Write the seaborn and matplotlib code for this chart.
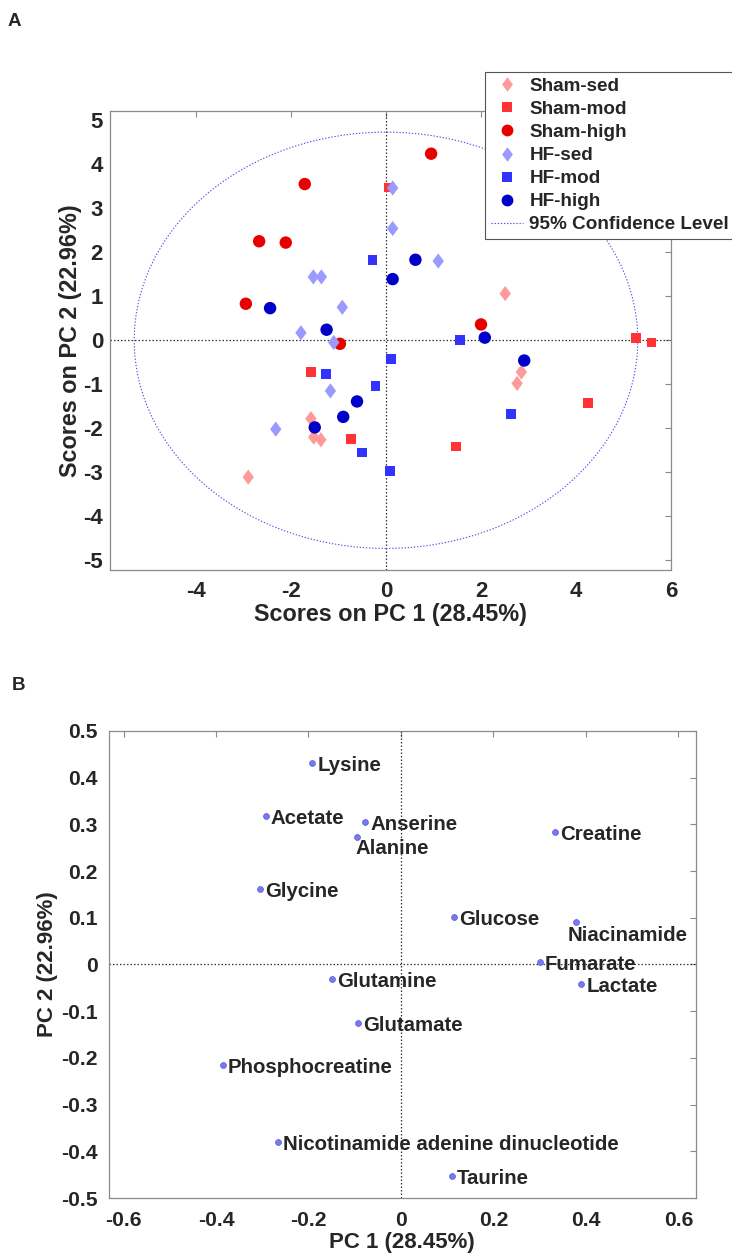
import matplotlib
matplotlib.use("Agg")
import matplotlib.pyplot as plt
import seaborn as sns
import pandas as pd
from matplotlib.patches import Ellipse
from matplotlib.lines import Line2D

# ---------------- data: panel A (scores) ----------------
groups = ["Sham-sed", "Sham-mod", "Sham-high", "HF-sed", "HF-mod", "HF-high"]

sham_sed_pc1 = [2.51, -1.58, -1.52, -1.37, -2.90, 2.85, 2.76]
sham_sed_pc2 = [1.06, -1.78, -2.20, -2.26, -3.11, -0.72, -0.98]

sham_mod_pc1 = [0.05, -1.58, -0.73, 5.26, 5.59, 4.25, 1.47]
sham_mod_pc2 = [3.47, -0.72, -2.24, 0.05, -0.05, -1.42, -2.41]

sham_high_pc1 = [-1.71, -2.67, -2.11, -2.95, 0.95, -0.97, 2.00]
sham_high_pc2 = [3.55, 2.25, 2.22, 0.83, 4.24, -0.08, 0.36]

hf_sed_pc1 = [0.14, 0.14, -1.53, -1.36, -0.92, -1.79, 1.10, -1.10, -1.17, -2.32]
hf_sed_pc2 = [3.46, 2.54, 1.44, 1.44, 0.75, 0.17, 1.80, -0.05, -1.15, -2.02]

hf_mod_pc1 = [-0.28, 0.10, -1.26, -0.22, -0.50, 0.09, 1.56, 2.63]
hf_mod_pc2 = [1.83, -0.43, -0.77, -1.04, -2.55, -2.97, 0.00, -1.67]

hf_high_pc1 = [0.62, 0.14, -2.44, -1.25, -0.61, -0.90, -1.50, 2.08, 2.91]
hf_high_pc2 = [1.83, 1.39, 0.73, 0.24, -1.39, -1.74, -1.98, 0.06, -0.46]

ellipse_semi_pc1 = 5.30
ellipse_semi_pc2 = 4.73

# ---------------- data: panel B (loadings) ----------------
metabolites = ["Lysine", "Acetate", "Anserine", "Alanine", "Creatine", "Glycine",
               "Glucose", "Niacinamide", "Fumarate", "Glutamine", "Lactate",
               "Glutamate", "Phosphocreatine", "Nicotinamide adenine dinucleotide",
               "Taurine"]
load_pc1 = [-0.192, -0.292, -0.077, -0.096, 0.333, -0.304, 0.114, 0.379, 0.300,
            -0.149, 0.390, -0.092, -0.385, -0.265, 0.110]
load_pc2 = [0.432, 0.319, 0.305, 0.272, 0.283, 0.162, 0.101, 0.090, 0.006,
            -0.031, -0.042, -0.126, -0.216, -0.381, -0.453]

# ---------------- styling ----------------
sns.set_style("white")
FONT = ["Liberation Sans", "DejaVu Sans"]
plt.rcParams["font.family"] = FONT
plt.rcParams["font.weight"] = "bold"
plt.rcParams["axes.labelweight"] = "bold"

palette = {"Sham-sed": "#FF9A9A", "Sham-mod": "#FF3333", "Sham-high": "#E60000",
           "HF-sed": "#9A9AFF", "HF-mod": "#3333FF", "HF-high": "#0000C8"}
diamond = [(0, 1), (0.75, 0), (0, -1), (-0.75, 0), (0, 1)]
markers = {"Sham-sed": diamond, "Sham-mod": "s", "Sham-high": "o",
           "HF-sed": diamond, "HF-mod": "s", "HF-high": "o"}
sizes = {"Sham-sed": 120, "Sham-mod": 48, "Sham-high": 80,
         "HF-sed": 120, "HF-mod": 48, "HF-high": 80}

pc1_lists = [sham_sed_pc1, sham_mod_pc1, sham_high_pc1, hf_sed_pc1, hf_mod_pc1, hf_high_pc1]
pc2_lists = [sham_sed_pc2, sham_mod_pc2, sham_high_pc2, hf_sed_pc2, hf_mod_pc2, hf_high_pc2]
rows = []
for g, xs, ys in zip(groups, pc1_lists, pc2_lists):
    for x, y in zip(xs, ys):
        rows.append({"PC1": x, "PC2": y, "group": g})
scores = pd.DataFrame(rows)

fig = plt.figure(figsize=(7.32, 12.6), dpi=100)
W, H = 732, 1260

def px_axes(l, t, r, b):
    return fig.add_axes([l / W, 1 - b / H, (r - l) / W, (b - t) / H])

spine_col = "#8a8a8a"

def style_axes(ax, fs, xpad, ypad):
    for s in ax.spines.values():
        s.set_color(spine_col)
        s.set_linewidth(0.9)
        s.set_visible(True)
    ax.tick_params(direction="in", top=True, right=True, length=4.5, width=0.8,
                   color=spine_col, labelsize=fs)
    ax.tick_params(axis="x", pad=xpad)
    ax.tick_params(axis="y", pad=ypad)
    for lab in ax.get_xticklabels() + ax.get_yticklabels():
        lab.set_fontweight("bold")

# ---------------- Panel A ----------------
axA = px_axes(110, 111, 671, 570)
axA.axhline(0, color="#333333", ls=(0, (1.2, 1.6)), lw=0.9, zorder=1)
axA.axvline(0, color="#333333", ls=(0, (1.2, 1.6)), lw=0.9, zorder=1)
ell = Ellipse((0, 0), 2 * ellipse_semi_pc1, 2 * ellipse_semi_pc2, fill=False,
              edgecolor="#5050E8", ls=(0, (1.2, 1.6)), lw=0.8, zorder=1)
axA.add_patch(ell)
sns.scatterplot(data=scores, x="PC1", y="PC2", hue="group", style="group",
                size="group", hue_order=groups, style_order=groups, size_order=groups,
                palette=palette, markers=markers, sizes=sizes, linewidth=0,
                legend=False, ax=axA, zorder=3)
axA.set_xlim(-5.81, 6.0)
axA.set_ylim(-5.22, 5.21)
axA.set_xticks([-4, -2, 0, 2, 4, 6])
axA.set_yticks(range(-5, 6))
axA.set_xticklabels(["-4", "-2", "0", "2", "4", "6"])
axA.set_yticklabels([str(v) for v in range(-5, 6)])
style_axes(axA, 16, 8, 5)
axA.set_xlabel("Scores on PC 1 (28.45%)", fontsize=16.8, fontweight="bold", labelpad=1)
axA.set_ylabel("Scores on PC 2 (22.96%)", fontsize=16.8, fontweight="bold", labelpad=1)

handles = []
for g in groups:
    handles.append(Line2D([], [], ls="none", marker=markers[g], color=palette[g],
                          markeredgewidth=0, markersize=(sizes[g] ** 0.5) * 0.95))
handles.append(Line2D([], [], color="#5050E8", ls=(0, (1.2, 1.6)), lw=0.8))
leg = fig.legend(handles, groups + ["95% Confidence Level"],
                 loc="upper left", bbox_to_anchor=(485 / W, 1 - 72 / H),
                 bbox_transform=fig.transFigure, frameon=True, fancybox=False,
                 framealpha=1, edgecolor="#555555",
                 prop={"weight": "bold", "size": 13.6, "family": FONT},
                 handlelength=1.7, handletextpad=0.35, labelspacing=0.31,
                 borderpad=0.3, borderaxespad=0)
leg.get_frame().set_linewidth(0.8)

# ---------------- Panel B ----------------
loadings = pd.DataFrame({"PC1": load_pc1, "PC2": load_pc2, "name": metabolites})
axB = px_axes(108.5, 731, 696, 1198)
axB.axhline(0, color="#333333", ls=(0, (1.2, 1.6)), lw=0.9, zorder=1)
axB.axvline(0, color="#333333", ls=(0, (1.2, 1.6)), lw=0.9, zorder=1)
sns.scatterplot(data=loadings, x="PC1", y="PC2", color="#7878F2", edgecolor="#5a5ad8",
                linewidth=0.5, s=18, legend=False, ax=axB, zorder=3)
special = {"Alanine": (-0.7, -7.9), "Niacinamide": (-6.3, -9.4)}
for name, x, y in zip(metabolites, load_pc1, load_pc2):
    dx, dy = special.get(name, (3.6, -1.8))
    axB.annotate(name, (x, y), xytext=(dx, dy), textcoords="offset points",
                 ha="left", va="center", fontsize=14.7, fontweight="bold", zorder=4)
axB.set_xlim(-0.6325, 0.638)
axB.set_ylim(-0.5, 0.5)
xt = [-0.6, -0.4, -0.2, 0, 0.2, 0.4, 0.6]
yt = [-0.5, -0.4, -0.3, -0.2, -0.1, 0, 0.1, 0.2, 0.3, 0.4, 0.5]
axB.set_xticks(xt)
axB.set_yticks(yt)
axB.set_xticklabels(["0" if v == 0 else f"{v:.1f}" for v in xt])
axB.set_yticklabels(["0" if v == 0 else f"{v:.1f}" for v in yt])
style_axes(axB, 15.2, 9, 8)
axB.set_xlabel("PC 1 (28.45%)", fontsize=16, fontweight="bold", labelpad=2)
axB.set_ylabel("PC 2 (22.96%)", fontsize=16, fontweight="bold", labelpad=2)

fig.text(8 / W, 1 - 22 / H, "A", fontsize=13.5, fontweight="bold", va="center", ha="left")
fig.text(12 / W, 1 - 686 / H, "B", fontsize=13.5, fontweight="bold", va="center", ha="left")

fig.savefig("out.png", dpi=100, facecolor="white")
